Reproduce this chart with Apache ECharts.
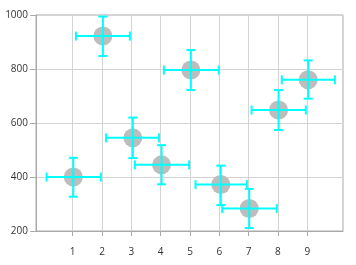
<!DOCTYPE html>
<html><head><meta charset="utf-8">
<script src="https://cdn.jsdelivr.net/npm/echarts@6/dist/echarts.min.js"></script>
<style>html,body{margin:0;padding:0;background:#fff}#c{width:356px;height:265px}</style>
</head><body><div id="c"></div>
<script>
const xTicks = [1, 9];
const yTicks = [200, 1000];
const xs    = [1.02, 2.03, 3.05, 4.03, 5.03, 6.05, 7.02, 8.02, 9.03];
const ys    = [400, 922, 545, 445, 796, 372, 283, 648, 760];
const xLow  = [0.11, 1.11, 2.14, 3.12, 4.11, 5.19, 6.10, 7.10, 8.13];
const xHigh = [1.96, 2.95, 3.94, 4.97, 5.98, 6.94, 7.96, 8.95, 9.94];
const yLow  = [327, 848, 470, 373, 722, 296, 211, 574, 690];
const yHigh = [471, 994, 620, 518, 870, 442, 356, 722, 832];

const pts = xs.map((x, i) => [x, ys[i]]);
const errs = xs.map((x, i) => [x, ys[i], xLow[i], xHigh[i], yLow[i], yHigh[i]]);

const chart = echarts.init(document.getElementById('c'), null, {renderer: 'canvas'});
const font = {fontSize: 10, color: '#333', fontFamily: 'Open Sans, sans-serif', formatter: v => String(v)};
chart.setOption({
  animation: false,
  grid: [
    {left: 72.7, right: 48.7, top: 15, bottom: 34},
    {left: 36, right: 13, top: 15, bottom: 34, show: true, borderColor: '#aaa', borderWidth: 1}
  ],
  xAxis: [
    {type: 'value', gridIndex: 0, min: xTicks[0], max: xTicks[1], interval: 1,
     axisLine: {show: false},
     axisTick: {show: true, length: 5, lineStyle: {color: '#aaa'}},
     axisLabel: Object.assign({}, font, {margin: 16}),
     splitLine: {show: true, showMinLine: true, showMaxLine: true, lineStyle: {color: '#d3d3d3'}}},
    {type: 'value', gridIndex: 1, min: 0, max: 1,
     axisLine: {show: true, lineStyle: {color: '#aaa'}},
     axisTick: {show: false}, axisLabel: {show: false}, splitLine: {show: false}}
  ],
  yAxis: [
    {type: 'value', gridIndex: 0, min: yTicks[0], max: yTicks[1], show: false},
    {type: 'value', gridIndex: 1, min: yTicks[0], max: yTicks[1], interval: 200,
     axisLine: {show: true, lineStyle: {color: '#aaa'}},
     axisTick: {show: true, length: 6, lineStyle: {color: '#aaa'}},
     axisLabel: Object.assign({}, font, {margin: 8}),
     splitLine: {show: true, lineStyle: {color: '#d3d3d3'}}}
  ],
  series: [
    {type: 'scatter', xAxisIndex: 0, yAxisIndex: 0, data: pts, symbolSize: 19, clip: false,
     itemStyle: {color: '#bdbdbd', opacity: 1}, z: 2},
    {type: 'custom', xAxisIndex: 0, yAxisIndex: 0, data: errs, clip: false, z: 3,
     renderItem: function (params, api) {
       const c = api.coord([api.value(0), api.value(1)]);
       const l = api.coord([api.value(2), api.value(1)]);
       const r = api.coord([api.value(3), api.value(1)]);
       const b = api.coord([api.value(0), api.value(4)]);
       const t = api.coord([api.value(0), api.value(5)]);
       const h = 4.5;
       const st = {stroke: '#00ffff', lineWidth: 2, fill: null};
       const ln = (x1, y1, x2, y2) => ({type: 'line', shape: {x1, y1, x2, y2}, style: st});
       return {type: 'group', children: [
         ln(l[0], c[1], r[0], c[1]),
         ln(l[0], c[1] - h, l[0], c[1] + h),
         ln(r[0], c[1] - h, r[0], c[1] + h),
         ln(c[0], t[1], c[0], b[1]),
         ln(c[0] - h, t[1], c[0] + h, t[1]),
         ln(c[0] - h, b[1], c[0] + h, b[1])
       ]};
     }}
  ]
});
</script></body></html>
